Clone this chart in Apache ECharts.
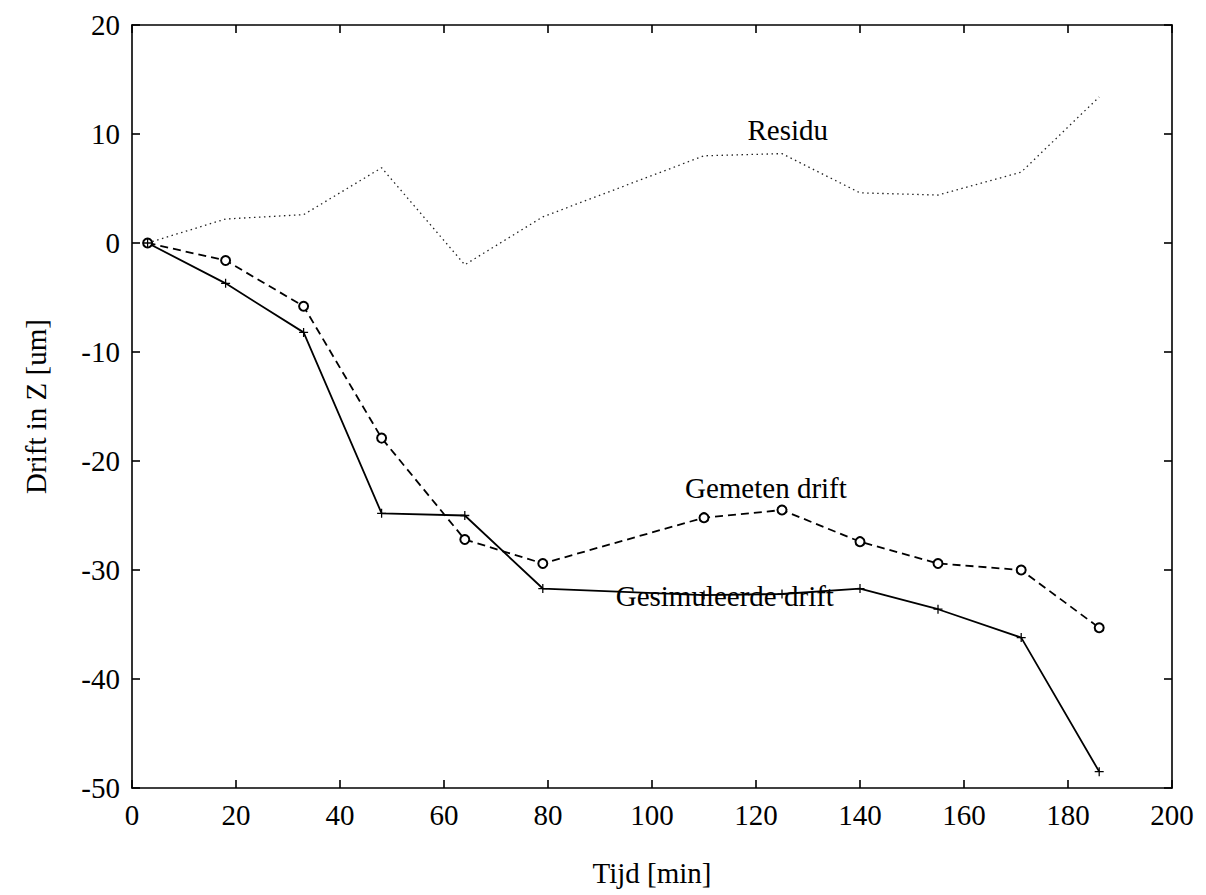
<!DOCTYPE html>
<html>
<head>
<meta charset="utf-8">
<script src="https://cdn.jsdelivr.net/npm/echarts@6/dist/echarts.min.js"></script>
<style>
html,body{margin:0;padding:0;background:#fff;}
#chart{width:1206px;height:895px;}
</style>
</head>
<body>
<div id="chart"></div>
<script>
// ---- data ----
const times      = [3, 18, 33, 48, 64, 79, 110, 125, 140, 155, 171, 186];
const gemeten    = [0, -1.6, -5.8, -17.9, -27.2, -29.4, -25.2, -24.5, -27.4, -29.4, -30.0, -35.3];
const simulated  = [0, -3.7, -8.2, -24.8, -25.0, -31.7, -32.3, -32.2, -31.7, -33.6, -36.2, -48.5];
const residu     = [0, 2.2, 2.6, 6.9, -2.0, 2.4, 8.0, 8.2, 4.6, 4.4, 6.5, 13.4];
const xTicks = {min: 0, max: 200, interval: 20};
const yTicks = {min: -50, max: 20, interval: 10};
const seriesNames = ['Residu', 'Gemeten drift', 'Gesimuleerde drift'];
const labelAnchors = [[126.1, 10.4], [121.9, -22.5], [114.0, -32.4]];
const xName = 'Tijd [min]';
const yName = 'Drift in Z [um]';

const FONT = '"Liberation Serif", "DejaVu Serif", serif';
const FS = 29;
const pair = (xs, ys) => xs.map((x, i) => [x, ys[i]]);
const plusPath = 'path://M4.3,0H5.7V4.3H10V5.7H5.7V10H4.3V5.7H0V4.3H4.3Z';

const axisCommon = {
  type: 'value',
  axisLine: {show: true, onZero: false, lineStyle: {color: '#000', width: 1.6}},
  axisTick: {show: true, inside: true, length: 8, lineStyle: {color: '#000', width: 1.6}},
  splitLine: {show: false}
};

function textLabel(text) {
  return {show: true, formatter: text, position: 'inside', color: '#000',
          fontFamily: FONT, fontSize: FS};
}

const chart = echarts.init(document.getElementById('chart'), null, {renderer: 'svg'});
chart.setOption({
  backgroundColor: '#fff',
  animation: false,
  grid: {left: 132, right: 34, top: 25, bottom: 107},
  xAxis: [
    Object.assign({}, axisCommon, xTicks, {
      position: 'bottom',
      name: xName, nameLocation: 'middle', nameGap: 70,
      nameTextStyle: {color: '#000', fontFamily: FONT, fontSize: FS},
      axisLabel: {color: '#000', fontFamily: FONT, fontSize: FS, margin: 12, showMinLabel: true, showMaxLabel: true}
    }),
    Object.assign({}, axisCommon, xTicks, {position: 'top', axisLabel: {show: false}})
  ],
  yAxis: [
    Object.assign({}, axisCommon, yTicks, {
      position: 'left',
      name: yName, nameLocation: 'middle', nameGap: 82,
      nameTextStyle: {color: '#000', fontFamily: FONT, fontSize: FS},
      axisLabel: {color: '#000', fontFamily: FONT, fontSize: FS, margin: 12, showMinLabel: true, showMaxLabel: true}
    }),
    Object.assign({}, axisCommon, yTicks, {position: 'right', axisLabel: {show: false}})
  ],
  series: [
    {
      name: seriesNames[0], type: 'line', data: pair(times, residu),
      symbol: 'none', lineStyle: {color: '#222', width: 1.3, type: [1.5, 3.5]},
      markPoint: {symbol: 'circle', symbolSize: 0, silent: true,
        data: [{coord: labelAnchors[0], label: textLabel(seriesNames[0])}]}
    },
    {
      name: seriesNames[1], type: 'line', data: pair(times, gemeten),
      symbol: 'emptyCircle', symbolSize: 9,
      itemStyle: {color: '#000', borderColor: '#000', borderWidth: 1.5},
      lineStyle: {color: '#000', width: 1.8, type: [8, 5]},
      markPoint: {symbol: 'circle', symbolSize: 0, silent: true,
        data: [{coord: labelAnchors[1], label: textLabel(seriesNames[1])}]}
    },
    {
      name: seriesNames[2], type: 'line', data: pair(times, simulated),
      symbol: plusPath, symbolSize: 9,
      itemStyle: {color: '#000'},
      lineStyle: {color: '#000', width: 1.8},
      markPoint: {symbol: 'circle', symbolSize: 0, silent: true,
        data: [{coord: labelAnchors[2], label: textLabel(seriesNames[2])}]}
    }
  ]
});
</script>
</body>
</html>
